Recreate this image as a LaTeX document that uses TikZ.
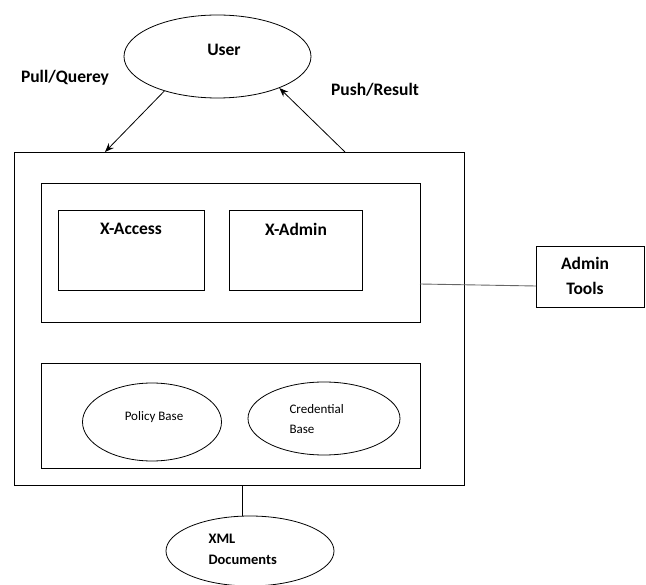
\documentclass[tikz,border=0pt]{standalone}
\usepackage{fontspec}
\setmainfont{Carlito}
\usetikzlibrary{shapes.geometric,arrows.meta}
\tikzset{
  box/.style={draw, line width=0.9pt, rectangle, inner sep=0pt},
  oval/.style={draw, line width=0.8pt, ellipse, inner sep=0pt},
  big/.style={font=\fontsize{17.5}{25}\selectfont\bfseries},
  mid/.style={font=\fontsize{14.5}{21}\selectfont\bfseries},
  small/.style={font=\fontsize{13}{20}\selectfont},
  arr/.style={draw, line width=0.8pt, -{Stealth[length=9pt,width=7pt]}},
  conn/.style={draw, line width=0.9pt},
}
\begin{document}
\begin{tikzpicture}[x=1pt,y=-1pt]
\useasboundingbox (0,0) rectangle (646,585);
% user
\node[oval, minimum width=187, minimum height=83] (user) at (217.5,56.5) {};
\node[big] (usertxt) at (224,50) {User};
\node[big] (pull) at (65,78) {Pull/Querey};
\node[big] (push) at (375,90) {Push/Result};
% outer box
\node[box, minimum width=450, minimum height=333] (outer) at (239,319) {};
% inner top
\node[box, minimum width=379, minimum height=139] (top) at (230.5,252.5) {};
\node[box, minimum width=146, minimum height=80] (xacc) at (131,250.5) {};
\node[big] (xacctxt) at (131,229) {X-Access};
\node[box, minimum width=133, minimum height=80] (xadm) at (295.5,250.5) {};
\node[big] (xadmtxt) at (296,229) {X-Admin};
% admin tools
\node[box, minimum width=108, minimum height=61] (admin) at (590,276.5) {};
\node[big, align=center] (admintxt) at (585,275.5) {Admin\\Tools};
% inner bottom
\node[box, minimum width=379, minimum height=105] (bot) at (230.5,415.5) {};
\node[oval, minimum width=139, minimum height=78] (policy) at (152,422) {};
\node[small] (policytxt) at (154,417) {Policy Base};
\node[oval, minimum width=152, minimum height=73] (cred) at (324,418.5) {};
\node[small, align=left, anchor=west] (credtxt) at (286,419) {Credential\\Base};
% xml
\node[oval, minimum width=168, minimum height=70] (xml) at (250,551) {};
\node[mid, align=left, anchor=west] (xmltxt) at (205,549.5) {XML\\Documents};
% connectors
\coordinate (pullend) at (105,152);
\coordinate (pushstart) at (345,152);
\draw[arr] (user.213) -- (pullend);
\draw[arr] (pushstart) -- (user.333);
\coordinate (topr) at (420,284);
\coordinate (admw) at (536,286);
\draw[conn, draw=black!60] (topr) -- (admw);
\coordinate (outb) at (242,485.5);
\coordinate (xmlt) at (242,516);
\draw[conn] (outb) -- (xmlt);
\end{tikzpicture}
\end{document}
